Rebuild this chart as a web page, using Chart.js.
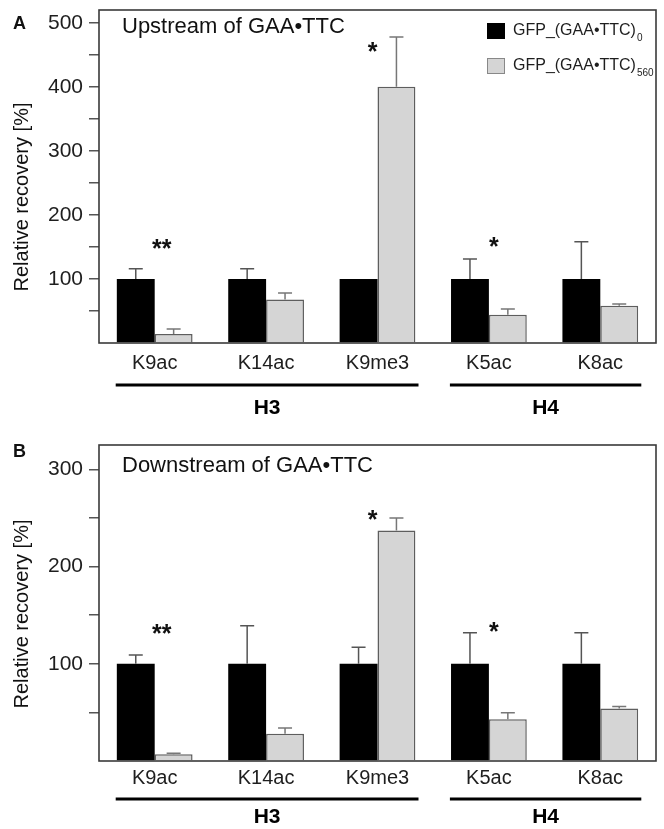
<!DOCTYPE html>
<html>
<head>
<meta charset="utf-8">
<script src="https://cdn.jsdelivr.net/npm/chart.js@4.4.1/dist/chart.umd.min.js"></script>
<style>
  body { margin: 0; background: #fff; }
  canvas { position: absolute; left: 0; }
  #chartA { top: 0; }
  #chartB { top: 420px; }
</style>
</head>
<body>
<canvas id="chartA" width="664" height="420"></canvas>
<canvas id="chartB" width="664" height="409"></canvas>
<script>
// data
const categories = ['K9ac', 'K14ac', 'K9me3', 'K5ac', 'K8ac'];
const seriesNames = ['GFP_(GAA•TTC)', 'GFP_(GAA•TTC)'];
const seriesSubs = ['0', '560'];

// upstream panel
const blackA = [100, 100, 100, 100, 100];
const blackErrA = [16, 16, 0, 31, 58];
const grayA = [14, 68, 400, 44, 58];
const grayErrA = [8, 10, 78, 9, 3];
const starsA = [['K9ac', '**', 155], ['K9me3', '*', 462], ['K5ac', '*', 158]];

// downstream panel
const blackB = [100, 100, 100, 100, 100];
const blackErrB = [9, 39, 17, 32, 32];
const grayB = [7, 28, 237, 43, 54];
const grayErrB = [1, 6, 13, 6.5, 2];
const starsB = [['K9ac', '**', 136], ['K9me3', '*', 253], ['K5ac', '*', 138]];

const groups = [['H3', 'K9ac', 'K9me3'], ['H4', 'K5ac', 'K8ac']];

const FONT = "'Liberation Sans', Arial, sans-serif";
Chart.defaults.font.family = FONT;
Chart.defaults.color = '#1e1e1e';

// small nudges of the asterisks relative to the category centre
const starShift = { K9ac: 7, K9me3: -5, K5ac: 5 };

const decor = {
  id: 'decor',
  afterDatasetsDraw(chart, args, o) {
    const ctx = chart.ctx;
    const a = chart.chartArea;
    const x = chart.scales.x, y = chart.scales.y;
    ctx.save();

    // error bars
    chart.data.datasets.forEach((ds, di) => {
      const meta = chart.getDatasetMeta(di);
      ctx.strokeStyle = di === 0 ? '#555' : '#777';
      ctx.lineWidth = 1.5;
      meta.data.forEach((bar, i) => {
        const e = ds.errors[i];
        if (!e) return;
        const y0 = y.getPixelForValue(ds.data[i]);
        const y1 = y.getPixelForValue(ds.data[i] + e);
        ctx.beginPath();
        ctx.moveTo(bar.x, y0);
        ctx.lineTo(bar.x, y1);
        ctx.moveTo(bar.x - 7, y1);
        ctx.lineTo(bar.x + 7, y1);
        ctx.stroke();
      });
    });

    // frame
    ctx.strokeStyle = '#3a3a3a';
    ctx.lineWidth = 1.6;
    ctx.strokeRect(a.left, a.top, a.right - a.left, a.bottom - a.top);

    // asterisks
    ctx.fillStyle = '#111';
    ctx.font = 'bold 25px ' + FONT;
    ctx.textAlign = 'center';
    ctx.textBaseline = 'alphabetic';
    o.stars.forEach(([cat, txt, v]) => {
      const m = ctx.measureText(txt);
      const cy = y.getPixelForValue(v);
      const base = cy - (m.actualBoundingBoxDescent - m.actualBoundingBoxAscent) / 2;
      ctx.fillText(txt, x.getPixelForValue(categories.indexOf(cat)) + (starShift[cat] || 0), base);
    });

    // panel title
    ctx.textAlign = 'left';
    ctx.font = '22px ' + FONT;
    ctx.fillText(o.title, a.left + 23, a.top + o.titleDy);

    // panel letter
    ctx.font = 'bold 18px ' + FONT;
    ctx.fillText(o.letter, 13, a.top + o.letterDy);

    // y title
    ctx.save();
    ctx.translate(22, o.yTitleY);
    ctx.rotate(-Math.PI / 2);
    ctx.textAlign = 'center';
    ctx.textBaseline = 'middle';
    ctx.font = '20px ' + FONT;
    ctx.fillText('Relative recovery [%]', 0, 0);
    ctx.restore();

    // group brackets
    groups.forEach(([name, c0, c1]) => {
      const x0 = x.getPixelForValue(categories.indexOf(c0)) - 39;
      const x1 = x.getPixelForValue(categories.indexOf(c1)) + 41;
      ctx.fillStyle = '#000';
      ctx.fillRect(x0, a.bottom + o.lineDy - 1.5, x1 - x0, 3);
      ctx.font = 'bold 21px ' + FONT;
      ctx.textAlign = 'center';
      ctx.textBaseline = 'middle';
      ctx.fillText(name, (x0 + x1) / 2, a.bottom + o.groupDy);
    });

    // legend
    if (o.legend) {
      const colors = ['#000', '#d5d5d5'];
      const rows = [31, 66];
      rows.forEach((ry, i) => {
        ctx.fillStyle = colors[i];
        ctx.fillRect(487, ry - 8, 18, 16);
        if (i === 1) {
          ctx.strokeStyle = '#888';
          ctx.lineWidth = 1;
          ctx.strokeRect(487.5, ry - 7.5, 17, 15);
        }
        ctx.fillStyle = '#1e1e1e';
        ctx.textAlign = 'left';
        ctx.textBaseline = 'middle';
        ctx.font = '16px ' + FONT;
        ctx.fillText(seriesNames[i], 513, ry);
        const w = ctx.measureText(seriesNames[i]).width;
        ctx.font = '10px ' + FONT;
        ctx.fillText(seriesSubs[i], 513 + w + 1, ry + 7);
      });
    }
    ctx.restore();
  }
};

function makeChart(id, black, blackErr, gray, grayErr, yMax, opts) {
  const el = document.getElementById(id);
  return new Chart(el, {
    type: 'bar',
    data: {
      labels: categories,
      datasets: [
        { data: black, errors: blackErr, backgroundColor: '#000', borderWidth: 0 },
        { data: gray, errors: grayErr, backgroundColor: '#d5d5d5', borderColor: '#5e5e5e', borderWidth: 1.5, borderSkipped: 'bottom' }
      ]
    },
    options: {
      responsive: false,
      animation: false,
      layout: { padding: { top: opts.top, right: 8, left: 0, bottom: 0 } },
      datasets: { bar: { categoryPercentage: 0.68, barPercentage: 1 } },
      plugins: { legend: { display: false }, tooltip: { enabled: false }, decor: opts },
      scales: {
        x: {
          offset: true,
          afterFit: s => { s.height = el.height - opts.top - opts.plotH; s.paddingLeft = 0; s.paddingRight = 0; },
          grid: { display: false, drawTicks: false },
          border: { display: false },
          ticks: { padding: opts.tickPad, font: { size: 20 }, color: '#1e1e1e' }
        },
        y: {
          min: 0,
          max: yMax,
          afterFit: s => { s.width = 99; s.paddingTop = 0; s.paddingBottom = 0; },
          border: { display: false },
          grid: {
            drawOnChartArea: false,
            drawTicks: true,
            tickLength: 10,
            lineWidth: 1.5,
            color: c => (c.tick && c.tick.value > 0 && c.tick.value % 50 === 0) ? '#555' : 'rgba(0,0,0,0)'
          },
          ticks: {
            stepSize: 50,
            includeBounds: false,
            autoSkip: false,
            padding: 6,
            font: { size: 21 },
            color: '#1e1e1e',
            callback: v => (v > 0 && v % 100 === 0) ? v : ''
          }
        }
      }
    },
    plugins: [decor]
  });
}

makeChart('chartA', blackA, blackErrA, grayA, grayErrA, 520, {
  top: 10, plotH: 333, tickPad: 8, stars: starsA, title: 'Upstream of GAA•TTC',
  titleDy: 23, letter: 'A', letterDy: 19, yTitleY: 197, lineDy: 42, groupDy: 65, legend: true
});
makeChart('chartB', blackB, blackErrB, grayB, grayErrB, 325, {
  top: 25, plotH: 316, tickPad: 5, stars: starsB, title: 'Downstream of GAA•TTC',
  titleDy: 27, letter: 'B', letterDy: 12, yTitleY: 194, lineDy: 38, groupDy: 56, legend: false
});
</script>
</body>
</html>
